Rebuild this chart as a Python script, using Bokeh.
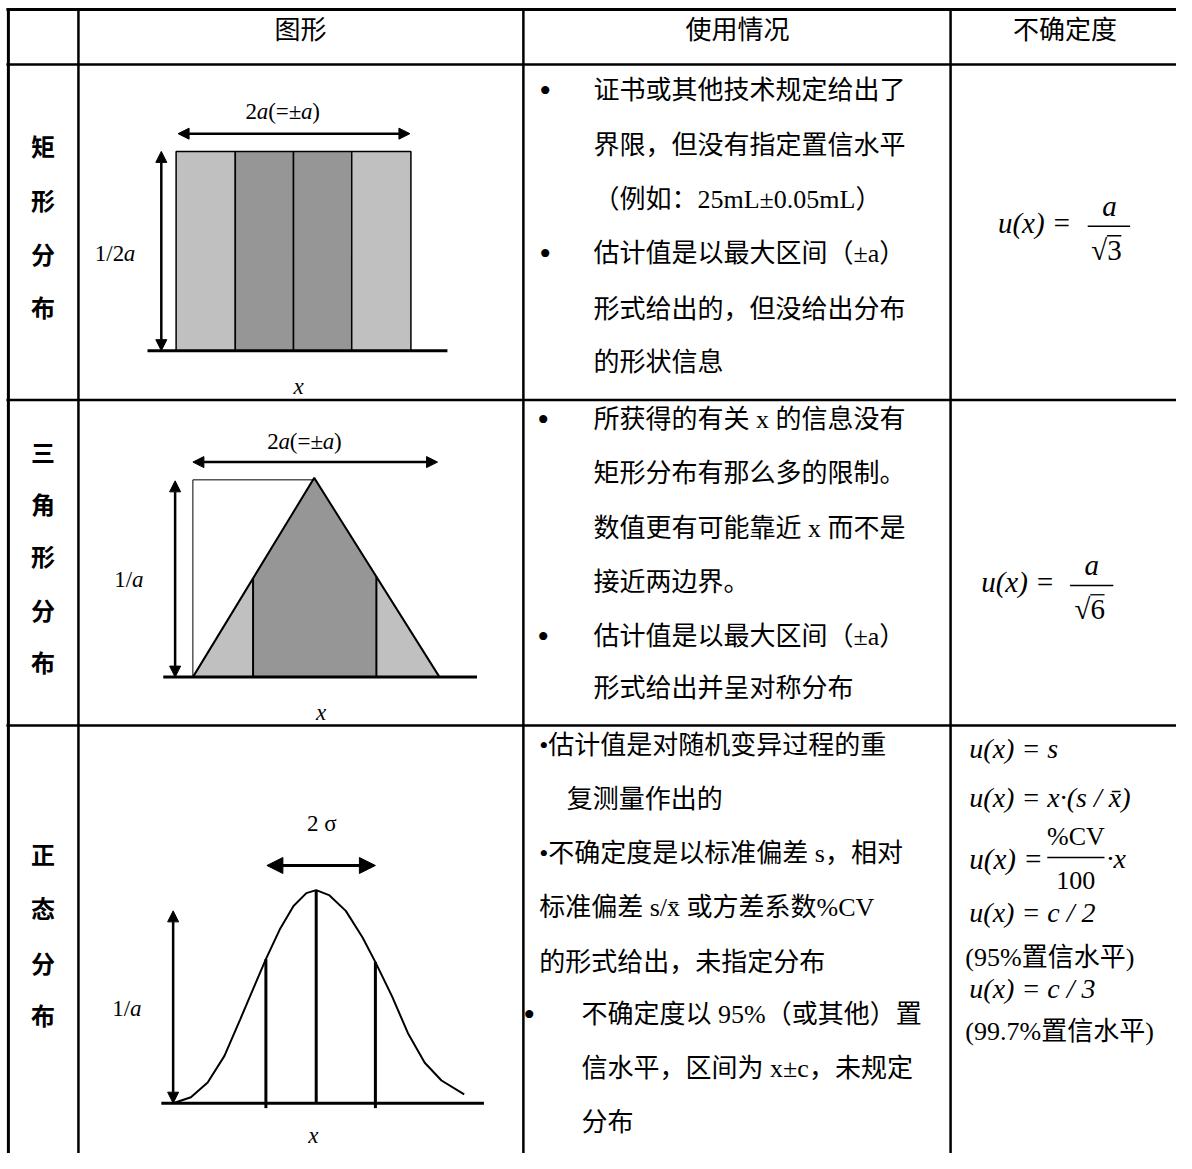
from bokeh.plotting import figure
from bokeh.models import Range1d, ColumnDataSource, Arrow, NormalHead
from bokeh.core.properties import value
from bokeh.embed import file_html
from bokeh.resources import INLINE

W, H = 1176, 1153
REF_W, REF_H = 1192, 1169

SERIF = value("Liberation Serif, Noto Sans CJK SC")
SANS = value("Noto Sans CJK SC")

# ---------------- table grid ----------------
grid_h_y = [9, 65, 405, 735]
grid_h_w = [3, 2.5, 2.5, 2.5]
grid_v_x = [8, 79, 530, 963]
grid_v_w = [3, 2.5, 2.5, 2.5]

# ---------------- header ----------------
header_text = ["图形", "使用情况", "不确定度"]
header_x = [304, 747, 1079]
header_y = [30, 30, 30]

# ---------------- row labels (vertical) ----------------
row_label_chars = ["矩", "形", "分", "布",
                   "三", "角", "形", "分", "布",
                   "正", "态", "分", "布"]
row_label_y = [147, 202, 257, 310,
               457, 510, 563, 617, 670,
               865, 920, 975, 1028]
row_label_x = 43

# ---------------- rectangular distribution ----------------
rect_left = [178, 238, 297, 356]
rect_right = [238, 297, 356, 416]
rect_top = 153
rect_bottom = 355
rect_colors = ["#c0c0c0", "#969696", "#969696", "#c0c0c0"]

# ---------------- triangular distribution ----------------
tri_light_xs = [[195, 256, 256], [381, 381, 445]]
tri_light_ys = [[686, 586, 686], [686, 584, 686]]
tri_dark_xs = [[256, 256, 318, 381, 381]]
tri_dark_ys = [[686, 586, 484, 584, 686]]
tri_edge_x = [195, 318, 445]
tri_edge_y = [686, 484, 686]
tri_div_x = [256, 381]
tri_div_top = [586, 584]
tri_base = 686
tri_guide_x = [195, 195, 318]
tri_guide_y = [686, 486, 486]

# ---------------- normal distribution ----------------
normal_x = [175, 193, 210, 227, 243, 260, 269, 283, 297, 310, 320,
            333, 350, 367, 380, 397, 413, 430, 447, 470]
normal_y = [1118, 1112, 1097, 1070, 1033, 993, 972, 942, 918, 905, 902,
            907, 923, 950, 975, 1010, 1047, 1077, 1095, 1109]
norm_vx = [269, 320, 380]
norm_vtop = [972, 902, 975]
norm_vbot = [1123, 1118, 1123]

# baselines
base_x0 = [149, 165, 163]
base_x1 = [453, 483, 490]
base_y = [355, 686, 1118]

# arrows (double headed)
arr_x0 = [163, 180, 177, 195, 175]
arr_y0 = [153, 135, 487, 468, 923]
arr_x1 = [163, 415, 177, 443, 175]
arr_y1 = [355, 135, 686, 468, 1118]
big_arr_x0, big_arr_y0, big_arr_x1, big_arr_y1 = [270], [877], [380], [877]

# diagram labels: runs of (text, em-width, style)
lab_runs = [
    [("2", 0.5, "normal"), ("a", 0.5, "italic"), ("(=±", 1.446, "normal"), ("a", 0.5, "italic"), (")", 0.333, "normal")],
    [("1/2", 1.278, "normal"), ("a", 0.5, "italic")],
    [("x", 0.444, "italic")],
    [("2", 0.5, "normal"), ("a", 0.5, "italic"), ("(=±", 1.446, "normal"), ("a", 0.5, "italic"), (")", 0.333, "normal")],
    [("1/", 0.778, "normal"), ("a", 0.5, "italic")],
    [("x", 0.444, "italic")],
    [("2 σ", 1.25, "normal")],
    [("1/", 0.778, "normal"), ("a", 0.5, "italic")],
    [("x", 0.444, "italic")],
]
lab_cx = [286, 116, 302, 308, 130, 325, 325, 128, 317]
lab_cy = [113, 257, 391, 447, 587, 722, 834, 1022, 1151]
LAB_SIZE = 23

# ---------------- usage column ----------------
use_text = [
    "证书或其他技术规定给出了", "界限，但没有指定置信水平", "（例如：25mL±0.05mL）",
    "估计值是以最大区间（±a）", "形式给出的，但没给出分布", "的形状信息",
    "所获得的有关 x 的信息没有", "矩形分布有那么多的限制。", "数值更有可能靠近 x 而不是",
    "接近两边界。", "估计值是以最大区间（±a）", "形式给出并呈对称分布",
    "•估计值是对随机变异过程的重", "复测量作出的", "•不确定度是以标准偏差 s，相对",
    "标准偏差 s/x̄ 或方差系数%CV", "的形式给出，未指定分布",
    "不确定度以 95%（或其他）置", "信水平，区间为 x±c，未规定", "分布",
]
use_x = [601] * 12 + [546, 574, 546, 546, 546, 589, 589, 589]
use_y = [91, 147, 202, 257, 313, 367,
         425, 480, 535, 590, 645, 698,
         755, 810, 865, 920, 975, 1028, 1083, 1138]
bullet_x = [552, 552, 550, 550, 536]
bullet_y = [91, 257, 425, 645, 1028]

# ---------------- uncertainty column ----------------
lhs_text = ["u(x) =", "u(x) =", "u(x) ="]
lhs_x = [1011, 994, 982]
lhs_y = [226, 590, 870]
num_text = ["a", "a", "%CV"]
num_x = [1124, 1106, 1090]
num_y = [208, 572, 848]
num_style = ["italic", "italic", "normal"]
den_text = ["√3", "√6", "100"]
den_x = [1121, 1104, 1090]
den_y = [253, 617, 892]
bar_x0 = [1102, 1084, 1061]
bar_x1 = [1145, 1128, 1119]
bar_y = [229, 593, 869]
tail_text = ["·x"]
tail_x = [1121]
tail_y = [870]
line_formula = ["u(x) = s", "u(x) = x·(s / x̄)", "u(x) = c / 2", "u(x) = c / 3"]
line_formula_y = [758, 808, 925, 1002]
line_formula_x = 982
note_text = ["(95%置信水平)", "(99.7%置信水平)"]
note_y = [970, 1045]
note_x = 978

# =====================================================
p = figure(width=W, height=H, x_range=Range1d(0, REF_W), y_range=Range1d(REF_H, 0),
           output_backend="svg", toolbar_location=None, min_border=0,
           x_axis_location=None, y_axis_location=None)
p.grid.visible = False
p.outline_line_color = None
p.background_fill_color = "white"

# grid
p.segment(x0=[6] * 4, x1=[1200] * 4, y0=grid_h_y, y1=grid_h_y,
          line_width=grid_h_w, line_color="black")
p.segment(x0=grid_v_x, x1=grid_v_x, y0=[8] * 4, y1=[1175] * 4,
          line_width=grid_v_w, line_color="black")

# header
p.text(x=header_x, y=header_y, text=header_text, text_font=SERIF, text_font_size="26px",
       text_align="center", text_baseline="middle", text_color="black")

# row labels
p.text(x=[row_label_x] * len(row_label_chars), y=row_label_y, text=row_label_chars,
       text_font=SANS, text_font_size="24px", text_font_style="bold",
       text_align="center", text_baseline="middle", text_color="black")

# rectangular
p.quad(left=rect_left, right=rect_right, top=[rect_top] * 4, bottom=[rect_bottom] * 4,
       fill_color=rect_colors, line_color="black", line_width=1.5)

# triangular
p.patches(xs=tri_light_xs, ys=tri_light_ys, fill_color="#c0c0c0", line_color=None)
p.patches(xs=tri_dark_xs, ys=tri_dark_ys, fill_color="#969696", line_color=None)
p.line(x=tri_edge_x, y=tri_edge_y, line_color="black", line_width=2)
p.segment(x0=tri_div_x, x1=tri_div_x, y0=tri_div_top, y1=[tri_base] * 2,
          line_color="black", line_width=2)
p.line(x=tri_guide_x, y=tri_guide_y, line_color="black", line_width=1)

# normal
p.line(x=normal_x, y=normal_y, line_color="black", line_width=2)
p.segment(x0=norm_vx, x1=norm_vx, y0=norm_vtop, y1=norm_vbot,
          line_color="black", line_width=3)

# baselines
p.segment(x0=base_x0, x1=base_x1, y0=base_y, y1=base_y, line_color="black", line_width=3)

# arrows
asrc = ColumnDataSource(dict(x0=arr_x0, y0=arr_y0, x1=arr_x1, y1=arr_y1))
p.add_layout(Arrow(x_start="x0", y_start="y0", x_end="x1", y_end="y1", source=asrc,
                   line_width=2.5, line_color="black",
                   start=NormalHead(size=11, fill_color="black", line_color="black", line_width=1),
                   end=NormalHead(size=11, fill_color="black", line_color="black", line_width=1)))
bsrc = ColumnDataSource(dict(x0=big_arr_x0, y0=big_arr_y0, x1=big_arr_x1, y1=big_arr_y1))
p.add_layout(Arrow(x_start="x0", y_start="y0", x_end="x1", y_end="y1", source=bsrc,
                   line_width=3, line_color="black",
                   start=NormalHead(size=16, fill_color="black", line_color="black", line_width=1),
                   end=NormalHead(size=16, fill_color="black", line_color="black", line_width=1)))

# diagram labels, laid out run by run
run_x, run_y, run_t, run_s = [], [], [], []
for runs, cx, cy in zip(lab_runs, lab_cx, lab_cy):
    total = sum(w for _, w, _ in runs) * LAB_SIZE
    xpos = cx - total / 2
    for t, w, s in runs:
        run_x.append(xpos)
        run_y.append(cy)
        run_t.append(t)
        run_s.append(s)
        xpos += w * LAB_SIZE
p.text(x=run_x, y=run_y, text=run_t, text_font=SERIF, text_font_size=f"{LAB_SIZE}px",
       text_font_style=run_s, text_align="left", text_baseline="middle", text_color="black")

# usage column
p.text(x=use_x, y=use_y, text=use_text, text_font=SERIF, text_font_size="26px",
       text_align="left", text_baseline="middle", text_color="black")
p.text(x=bullet_x, y=bullet_y, text=["•"] * len(bullet_x), text_font=SERIF,
       text_font_size="34px", text_align="center", text_baseline="middle", text_color="black")

# uncertainty column
p.text(x=lhs_x, y=lhs_y, text=lhs_text, text_font=SERIF, text_font_size="29px",
       text_font_style="italic", text_align="left", text_baseline="middle", text_color="black")
p.text(x=num_x, y=num_y, text=num_text, text_font=SERIF, text_font_size=["29px", "29px", "26px"],
       text_font_style=num_style, text_align="center", text_baseline="middle", text_color="black")
p.text(x=den_x, y=den_y, text=den_text, text_font=SERIF, text_font_size=["29px", "29px", "26px"],
       text_align="center", text_baseline="middle", text_color="black")
# radical over-bars for the square roots
rad_size = 29
rad_x0 = [x + 0.02 * rad_size for x in den_x[:2]]
rad_x1 = [x + 0.52 * rad_size for x in den_x[:2]]
rad_y = [y - 0.5 * rad_size for y in den_y[:2]]
p.segment(x0=rad_x0, x1=rad_x1, y0=rad_y, y1=rad_y, line_color="black", line_width=1.3)
p.segment(x0=bar_x0, x1=bar_x1, y0=bar_y, y1=bar_y, line_color="black", line_width=1.5)
p.text(x=tail_x, y=tail_y, text=tail_text, text_font=SERIF, text_font_size="28px",
       text_font_style="italic", text_align="left", text_baseline="middle", text_color="black")
p.text(x=[line_formula_x] * len(line_formula), y=line_formula_y, text=line_formula,
       text_font=SERIF, text_font_size="28px", text_font_style="italic",
       text_align="left", text_baseline="middle", text_color="black")
p.text(x=[note_x] * len(note_text), y=note_y, text=note_text, text_font=SERIF,
       text_font_size="26px", text_align="left", text_baseline="middle", text_color="black")

open("out.html", "w").write(file_html(p, INLINE))
